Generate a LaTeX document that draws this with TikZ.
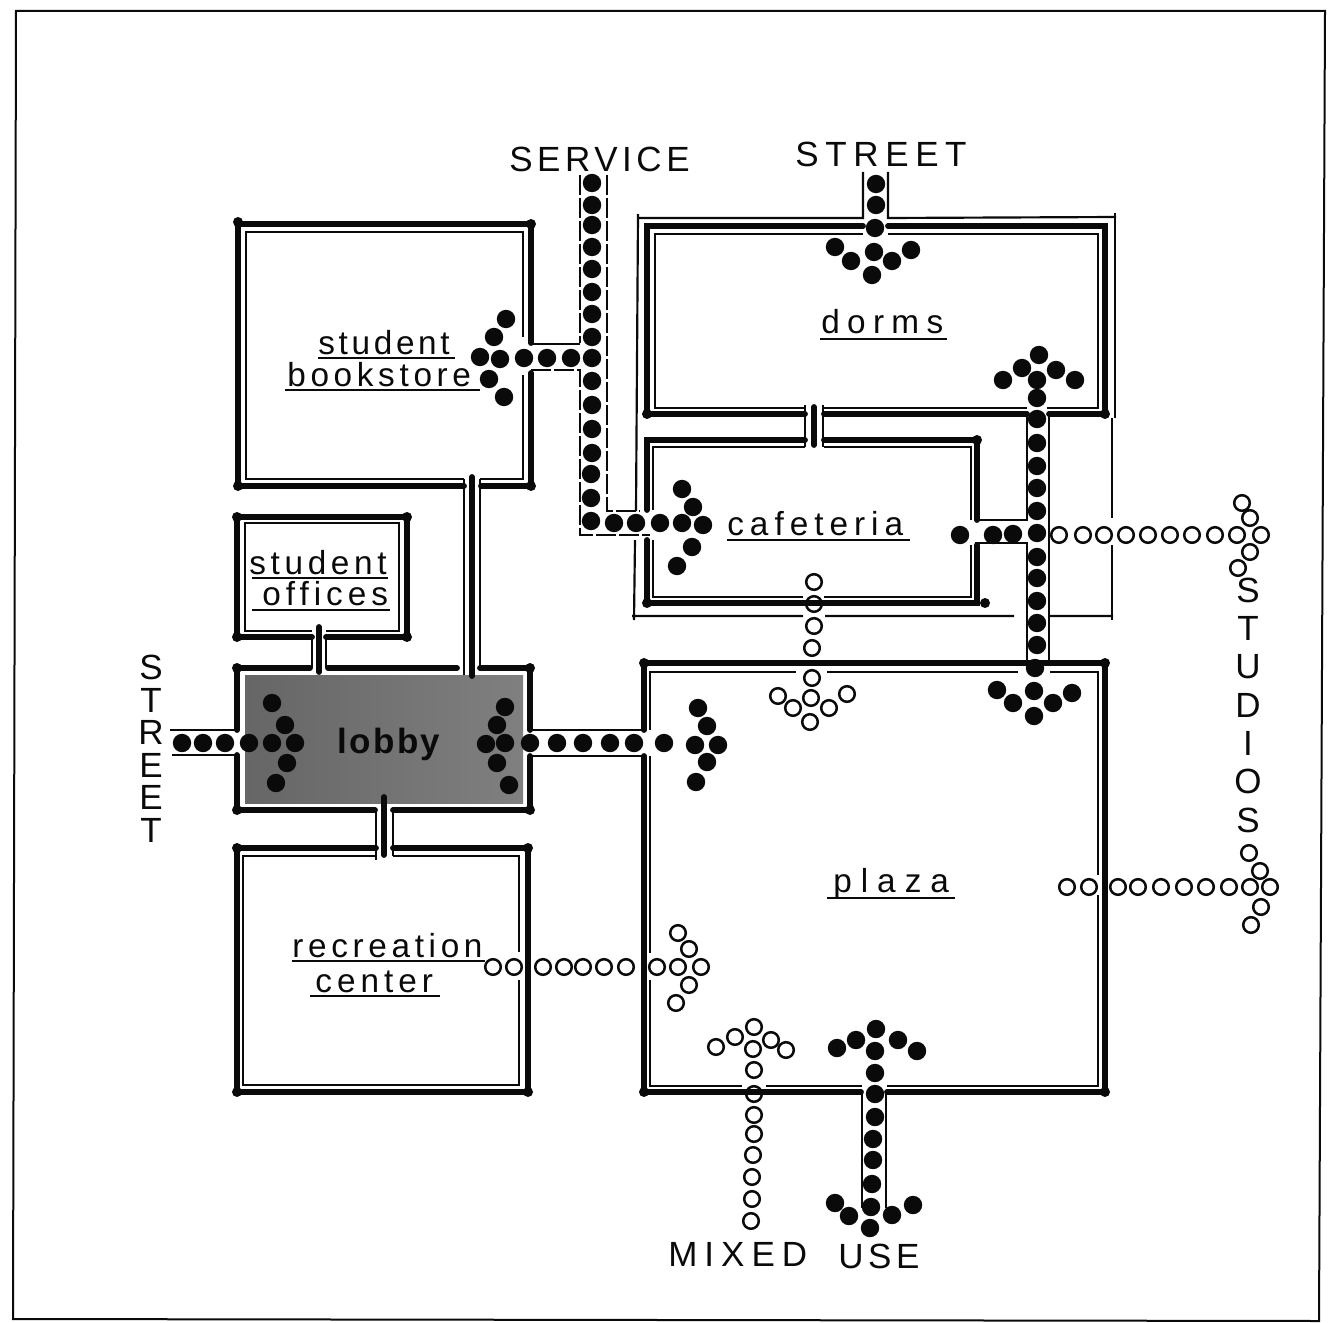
\documentclass[tikz,border=0pt]{standalone}
\usepackage{fontspec}
\setmainfont{Liberation Sans}
\newfontfamily\roomfont{Liberation Sans}
\newfontfamily\signfont{Liberation Sans}
\usepackage{xcolor}
\definecolor{ink}{HTML}{0A0A0A}
\newcommand{\spaced}[2]{\addfontfeature{LetterSpace=#1}#2}
\newcommand{\fullspots}[1]{\foreach \x/\y in {#1} \fill[ink] (\x,\y) circle[radius=9.2];}
\newcommand{\openspots}[1]{\foreach \x/\y in {#1} \draw[ink, line width=1.5pt] (\x,\y) circle[radius=7.8];}
\newcommand{\wallknobs}[1]{\foreach \x/\y in {#1} \fill[ink] (\x,\y) circle[radius=5];}
\tikzset{
  wallthick/.style={ink, line width=3.5pt, line cap=round, line join=miter},
  wallthin/.style={ink, line width=1.3pt},
  walkdash/.style={ink, line width=1.7pt, dash pattern=on 12pt off 1.8pt},
  roomline/.style={ink, line width=1.1pt},
  roomlabel/.style={anchor=base west, inner sep=0pt, text=ink, font=\fontsize{20}{24}\selectfont\roomfont},
  signlabel/.style={anchor=base west, inner sep=0pt, text=ink, font=\fontsize{21}{25}\selectfont\signfont},
  signcolumn/.style={anchor=center, inner sep=0pt, align=center, text=ink}
}
\begin{document}
\begin{tikzpicture}[x=0.6pt, y=-0.6pt]
  \useasboundingbox (0,0) rectangle (1333,1323);
  \draw[ink, line width=1.2pt] (16,11) -- (1325,11) -- (1319,1321) -- (13,1319) -- cycle;

  % lobby
  \shade[left color=black!60, right color=black!50] (245,675) rectangle (523,803);
  \draw[wallthick] (237,730) -- (237,668) -- (310,668) (328,668) -- (457,668) (480,668) -- (530,668) -- (530,730)
    (530,756) -- (530,810) -- (393,810) (375,810) -- (237,810) -- (237,755);
  \draw[wallthin] (170,730) -- (237,730) (172,755) -- (237,755) (530,730) -- (644,730) (530,756) -- (644,756);

  % bookstore
  \draw[wallthick] (464,486) -- (238,486) -- (238,224) -- (531,224) -- (531,343) (531,373) -- (531,486) -- (481,486);
  \draw[wallthin] (464,479) -- (246,479) -- (246,232) -- (523,232) -- (523,337) (523,375) -- (523,479) -- (480,479);
  \draw[wallthick] (472,477) -- (472,676);
  \draw[wallthin] (464,479) -- (464,675) (480,479) -- (480,668);

  % student offices
  \draw[wallthick] (312,637) -- (237,637) -- (237,517) -- (407,517) -- (407,637) -- (326,637);
  \draw[wallthin] (312,631) -- (245,631) -- (245,523) -- (399,523) -- (399,631) -- (326,631);
  \draw[wallthick] (319,627) -- (319,672);
  \draw[wallthin] (312,637) -- (312,668) (326,637) -- (326,668);

  % recreation
  \draw[wallthick] (376,848) -- (237,848) -- (237,1092) -- (528,1092) -- (528,848) -- (393,848);
  \draw[wallthin] (376,856) -- (243,856) -- (243,1085) -- (519,1085) -- (519,980) (519,952) -- (519,856) -- (393,856);
  \draw[wallthick] (384,797) -- (384,855);
  \draw[wallthin] (376,810) -- (376,860) (393,810) -- (393,856);

  % plaza
  \draw[wallthick] (644,730) -- (644,663) -- (1105,663) -- (1105,1092) -- (887,1092) (861,1092) -- (644,1092) -- (644,756);
  \draw[wallthin] (650,730) -- (650,672) -- (796,672) (827,672) -- (1018,672) (1050,672) -- (1098,672) -- (1098,875)
    (1098,895) -- (1098,1086) -- (887,1086) (862,1086) -- (766,1086) (742,1086) -- (650,1086) -- (650,980) (650,953) -- (650,756);

  % dorms
  \draw[wallthick] (863,226) -- (647,226) -- (647,414) -- (805,414) (824,414) -- (1027,414) (1049,414) -- (1105,414) -- (1105,226) -- (888,226);
  \draw[wallthin] (863,234) -- (655,234) -- (655,408) -- (805,408) (824,408) -- (1027,408) (1047,408) -- (1098,408) -- (1098,234) -- (888,234);
  \draw[wallthin] (863,172) -- (863,218) -- (638,218) (888,172) -- (888,218) -- (1116,217);
  \draw[wallthin] (638,214) -- (636,511) (635,540) -- (634,620) (632,616) -- (803,616) (825,616) -- (1014,616) (1050,616) -- (1113,616);
  \draw[wallthin] (1115,213) -- (1115,418) (1112,418) -- (1112,518) (1112,545) -- (1112,620);
  \draw[wallthick] (814,407) -- (814,445);
  \draw[wallthin] (805,405) -- (805,447) (823,405) -- (823,447);

  % cafeteria
  \draw[wallthick] (805,440) -- (647,440) -- (647,510) (647,540) -- (647,603) -- (977,603) -- (977,545) (977,520) -- (977,440) -- (824,440);
  \draw[wallthin] (805,447) -- (653,447) -- (653,510) (653,540) -- (653,597) -- (803,597) (824,597) -- (971,597) -- (971,545) (971,520) -- (971,447) -- (824,447);

  % walkways
  \draw[wallthin] (531,344) -- (580,344);
  \draw[walkdash] (580,175) -- (580,343) (531,370) -- (580,370) -- (580,535) -- (650,535) (607,175) -- (607,511) -- (640,511);
  \draw[wallthin] (1027,414) -- (1027,520) -- (975,520) (975,543) -- (1027,543) -- (1027,664) (1049,414) -- (1049,664);
  \draw[wallthin] (862,1092) -- (862,1208) (886,1092) -- (886,1208);

  \wallknobs{238/222, 531/224, 238/486, 531/486, 237/517, 407/517, 237/637, 407/637, 237/668, 530/668, 237/810, 530/810,
    237/848, 528/848, 237/1092, 528/1092, 644/663, 1105/663, 644/1092, 1105/1092, 1105/414, 977/440, 985/603, 647/603, 647/414}

  % full spots
  \fullspots{592/183, 592/205, 592/225, 592/247, 592/269, 592/292, 592/314, 592/337, 592/358, 592/381, 592/405, 592/429, 592/453, 591/474, 591/498, 591/521}
  \fullspots{506/319, 494/337, 480/357, 500/359, 489/379, 504/397, 524/358, 547/358, 571/358}
  \fullspots{614/523, 636/523, 660/523, 682/523, 703/525, 682/489, 693/507, 692/547, 677/566}
  \fullspots{876/184, 876/205, 875/228, 874/252, 872/275, 835/247, 851/261, 892/261, 911/250}
  \fullspots{1039/355, 1003/380, 1022/368, 1056/370, 1075/380, 1037/380, 1037/398, 1037/419, 1037/443, 1037/466, 1037/488, 1037/511, 1037/533, 1037/557, 1037/578, 1037/601, 1037/623, 1037/645, 1035/668}
  \fullspots{960/535, 993/535, 1013/534, 997/690, 1013/703, 1034/691, 1053/703, 1072/693, 1034/716}
  \fullspots{182/743, 203/743, 225/743, 249/743, 272/743, 295/743, 272/703, 285/725, 287/763, 276/783}
  \fullspots{486/744, 505/743, 505/707, 497/725, 497/763, 509/785, 530/743, 557/743, 583/743, 610/743, 634/743, 664/743}
  \fullspots{698/708, 707/726, 718/745, 695/745, 707/762, 696/782}
  \fullspots{837/1048, 856/1040, 876/1029, 898/1040, 917/1051, 875/1051, 875/1073, 875/1094, 875/1117, 873/1139, 873/1160, 872/1184, 871/1207, 835/1203, 849/1216, 870/1228, 892/1215, 913/1205}

  % open spots
  \openspots{1059/535, 1083/535, 1104/535, 1126/535, 1148/535, 1170/535, 1192/535, 1215/535, 1237/535, 1261/535, 1242/503, 1250/518, 1250/552, 1238/568}
  \openspots{1067/887, 1089/887, 1118/887, 1138/887, 1161/887, 1184/887, 1206/887, 1229/887, 1250/887, 1270/887, 1249/853, 1260/871, 1261/907, 1251/925}
  \openspots{493/967, 514/967, 543/967, 564/967, 583/967, 604/967, 626/967, 657/967, 678/967, 701/967, 678/933, 689/949, 689/985, 676/1003}
  \openspots{814/582, 814/604, 814/626, 812/648, 812/678, 811/698, 778/696, 793/708, 829/708, 847/694, 810/722}
  \openspots{754/1027, 716/1047, 735/1037, 771/1040, 786/1050, 753/1049, 754/1070, 754/1094, 754/1115, 754/1134, 753/1155, 752/1177, 752/1199, 751/1221}

  % room labels
  \node[roomlabel] (bookstorea) at (318,354) {\spaced{11}{student}};
  \node[roomlabel] (bookstoreb) at (287,386) {\spaced{14}{bookstore}};
  \node[roomlabel] (dorms) at (821,333) {\spaced{22}{dorms}};
  \node[roomlabel] (cafeteria) at (727,535) {\spaced{18}{cafeteria}};
  \node[roomlabel] (officesa) at (249,574) {\spaced{14}{student}};
  \node[roomlabel] (officesb) at (262,605) {\spaced{15}{offices}};
  \node[roomlabel, font=\fontsize{21}{24}\selectfont\roomfont\bfseries] (lobby) at (337,753) {\spaced{7}{lobby}};
  \node[roomlabel] (plaza) at (833,892) {\spaced{27}{plaza}};
  \node[roomlabel] (recreationa) at (292,957) {\spaced{14}{recreation}};
  \node[roomlabel] (recreationb) at (315,992) {\spaced{15}{center}};
  \draw[roomline] (318,358) -- (455,358) (285,390) -- (480,390) (820,339) -- (947,339) (727,540) -- (910,540);
  \draw[roomline] (252,578) -- (388,578) (252,610) -- (390,610) (827,898) -- (955,898) (292,961) -- (485,961) (310,996) -- (440,996);

  % signs
  \node[signlabel] (service) at (509,172) {\spaced{13}{SERVICE}};
  \node[signlabel] (streetnorth) at (795,167) {\spaced{19}{STREET}};
  \node[signlabel] (mixed) at (668,1266) {\spaced{20}{MIXED}};
  \node[signlabel] (use) at (838,1268) {\spaced{13}{USE}};
  \node[signcolumn, font=\fontsize{21}{19.5}\selectfont\signfont] (streetwest) at (151,749) {S\\T\\R\\E\\E\\T};
  \node[signcolumn, font=\fontsize{21}{23}\selectfont\signfont] (studios) at (1248,705) {S\\T\\U\\D\\I\\O\\S};
\end{tikzpicture}
\end{document}
